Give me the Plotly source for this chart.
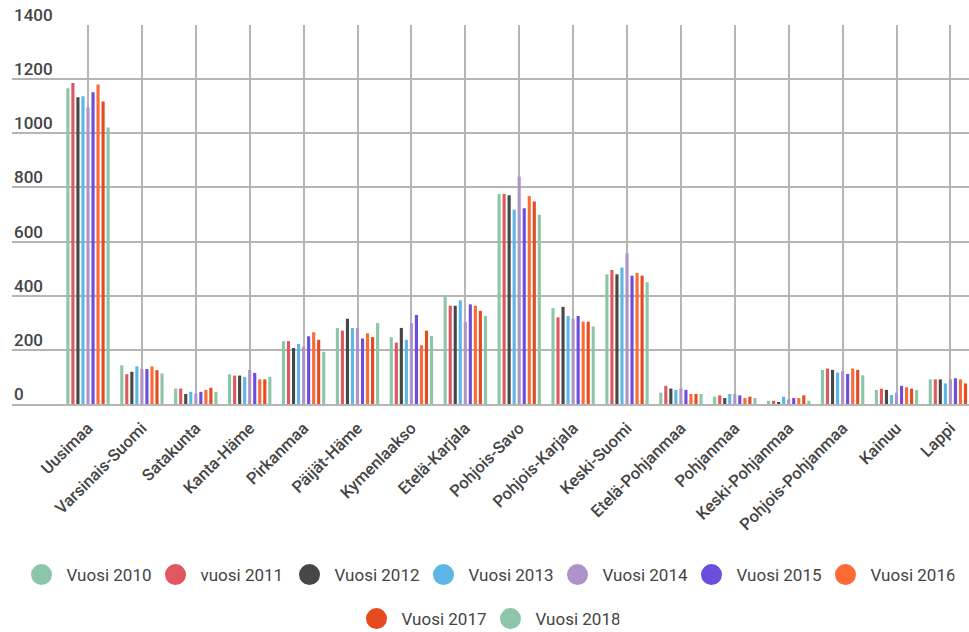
import plotly.graph_objects as go

regions = ["Uusimaa", "Varsinais-Suomi", "Satakunta", "Kanta-Häme", "Pirkanmaa",
           "Päijät-Häme", "Kymenlaakso", "Etelä-Karjala", "Pohjois-Savo",
           "Pohjois-Karjala", "Keski-Suomi", "Etelä-Pohjanmaa", "Pohjanmaa",
           "Keski-Pohjanmaa", "Pohjois-Pohjanmaa", "Kainuu", "Lappi"]

series_names = ["Vuosi 2010", "vuosi 2011", "Vuosi 2012", "Vuosi 2013", "Vuosi 2014",
                "Vuosi 2015", "Vuosi 2016", "Vuosi 2017", "Vuosi 2018"]

v2010 = [1166, 143, 57, 110, 232, 281, 247, 399, 776, 354, 479, 42, 27, 12, 126, 52, 91]
v2011 = [1186, 110, 57, 105, 232, 271, 227, 363, 776, 320, 495, 67, 32, 12, 131, 57, 91]
v2012 = [1133, 119, 37, 105, 207, 315, 281, 363, 771, 359, 479, 57, 22, 7, 126, 52, 91]
v2013 = [1137, 139, 45, 100, 222, 281, 237, 383, 718, 325, 504, 52, 37, 27, 116, 33, 76]
v2014 = [1095, 129, 39, 126, 212, 281, 299, 304, 840, 315, 557, 57, 37, 17, 121, 42, 91]
v2015 = [1152, 129, 45, 115, 250, 242, 329, 368, 723, 325, 474, 52, 32, 22, 111, 67, 95]
v2016 = [1180, 139, 52, 91, 265, 261, 217, 363, 768, 304, 484, 37, 22, 22, 131, 62, 91]
v2017 = [1117, 125, 60, 91, 237, 247, 271, 344, 748, 304, 474, 37, 27, 32, 126, 57, 76]
v2018 = [1021, 113, 45, 100, 193, 299, 251, 325, 699, 286, 450, 37, 22, 12, 106, 52, 70]

all_values = [v2010, v2011, v2012, v2013, v2014, v2015, v2016, v2017, v2018]
colors = ["#8dc5a8", "#e0575f", "#474747", "#5db6e6", "#ae93c9",
          "#6b4fdc", "#fd6a35", "#e64a20", "#8dc5a8"]

y_ticks = [0, 200, 400, 600, 800, 1000, 1200, 1400]
y_tick_labels = [str(v) for v in y_ticks]

fig = go.Figure()
for name, vals, col in zip(series_names, all_values, colors):
    fig.add_trace(go.Bar(x=regions, y=vals, name=name, marker_color=col,
                         marker_line_width=0, showlegend=False))

for i, (name, col) in enumerate(zip(series_names, colors)):
    fig.add_trace(go.Scatter(x=[None], y=[None], mode="markers", name=name,
                             marker=dict(symbol="circle", size=16, color=col,
                                         line=dict(color=col, width=5)),
                             legend="legend" if i < 7 else "legend2"))

legend_common = dict(orientation="h", xanchor="center", x=0.5 + 1 / 969, xref="container",
                     yref="container", yanchor="middle", itemsizing="trace",
                     itemwidth=40, entrywidth=79,
                     font=dict(family="Roboto", size=17, color="#444444"),
                     bgcolor="rgba(0,0,0,0)")

for v, lab in zip(y_ticks, y_tick_labels):
    fig.add_annotation(x=0, xref="paper", xanchor="left", y=v, yref="y",
                       yanchor="middle", yshift=10, text=lab, showarrow=False,
                       font=dict(family="Roboto", size=17, color="#444444", weight=500))

fig.update_layout(
    width=969, height=632,
    margin=dict(l=12, r=0, t=25, b=228),
    paper_bgcolor="white", plot_bgcolor="white",
    barmode="group", bargap=0.16, bargroupgap=0.38,
    font=dict(family="Roboto", color="#444444"),
    legend=dict(y=1 - 575 / 632, **legend_common),
    legend2=dict(y=1 - 619 / 632, **legend_common),
    xaxis=dict(range=[-1.41, 16.345], showgrid=True, gridcolor="#b5b5b5", gridwidth=1.5,
               tickangle=-45, showline=True, linecolor="#b5b5b5", linewidth=2,
               tickfont=dict(family="Roboto", size=16.5, color="#444444", weight=500),
               ticks="", ticklabelstandoff=6, automargin=False, fixedrange=True),
    yaxis=dict(range=[0, 1400], tickvals=y_ticks, showgrid=True, gridcolor="#b5b5b5",
               gridwidth=1.5, zeroline=False, ticks="", showticklabels=False,
               automargin=False, fixedrange=True),
)

fig.write_html("out.html", config={"displayModeBar": False},
               post_script="document.body.style.margin='0';document.body.style.overflow='hidden';")
